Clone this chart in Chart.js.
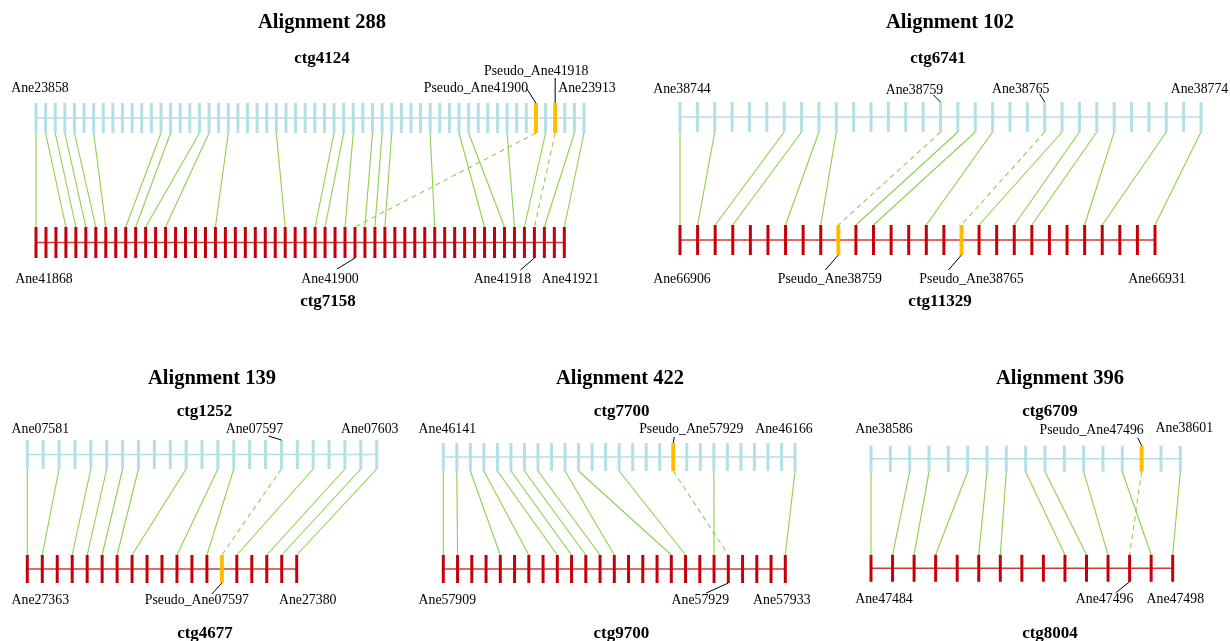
<!DOCTYPE html>
<html>
<head>
<meta charset="utf-8">
<script src="https://cdn.jsdelivr.net/npm/chart.js@4.4.0/dist/chart.umd.min.js"></script>
<style>
  html, body { margin: 0; padding: 0; background: #fff; }
  #wrap { position: relative; width: 1230px; height: 641px; }
</style>
</head>
<body>
<div id="wrap"><canvas id="syn" width="1230" height="641"></canvas></div>
<script>
// ---------- data ----------
// Alignment 288
const a288Names = ['Alignment 288', 'ctg4124', 'ctg7158'];
const a288TopCount = 58;
const a288BotCount = 54;
const a288TopPseudo = [52, 54];
const a288BotPseudo = [];
const a288Links = [[0,0],[1,3],[2,4],[3,5],[4,6],[6,7],[13,9],[14,10],[17,11],[18,13],[20,18],[25,25],
  [31,28],[32,29],[33,31],[35,33],[36,34],[37,35],[41,40],[44,45],[45,47],[49,48],[53,49],[56,51],[57,53]];
const a288PseudoLinks = [[52,32],[54,50]];
const a288TopLabelIdx = [0, 52, 54, 57];
const a288TopLabels = ['Ane23858', 'Pseudo_Ane41900', 'Pseudo_Ane41918', 'Ane23913'];
const a288BotLabelIdx = [0, 32, 50, 53];
const a288BotLabels = ['Ane41868', 'Ane41900', 'Ane41918', 'Ane41921'];

// Alignment 102
const a102Names = ['Alignment 102', 'ctg6741', 'ctg11329'];
const a102TopCount = 31;
const a102BotCount = 28;
const a102TopPseudo = [];
const a102BotPseudo = [9, 16];
const a102Links = [[0,0],[2,1],[6,2],[7,3],[8,6],[9,8],[16,10],[17,11],[18,14],[22,17],[23,19],[24,20],[25,23],[28,24],[30,27]];
const a102PseudoLinks = [[15,9],[21,16]];
const a102TopLabelIdx = [0, 15, 21, 30];
const a102TopLabels = ['Ane38744', 'Ane38759', 'Ane38765', 'Ane38774'];
const a102BotLabelIdx = [0, 9, 16, 27];
const a102BotLabels = ['Ane66906', 'Pseudo_Ane38759', 'Pseudo_Ane38765', 'Ane66931'];

// Alignment 139
const a139Names = ['Alignment 139', 'ctg1252', 'ctg4677'];
const a139TopCount = 23;
const a139BotCount = 19;
const a139TopPseudo = [];
const a139BotPseudo = [13];
const a139Links = [[0,0],[2,1],[4,3],[5,4],[6,5],[7,6],[10,7],[12,10],[13,12],[18,14],[20,16],[21,17],[22,18]];
const a139PseudoLinks = [[16,13]];
const a139TopLabelIdx = [0, 16, 22];
const a139TopLabels = ['Ane07581', 'Ane07597', 'Ane07603'];
const a139BotLabelIdx = [0, 13, 18];
const a139BotLabels = ['Ane27363', 'Pseudo_Ane07597', 'Ane27380'];

// Alignment 422
const a422Names = ['Alignment 422', 'ctg7700', 'ctg9700'];
const a422TopCount = 27;
const a422BotCount = 25;
const a422TopPseudo = [17];
const a422BotPseudo = [];
const a422Links = [[0,0],[1,1],[2,4],[3,6],[4,8],[5,9],[6,10],[7,11],[9,12],[10,16],[13,17],[20,19],[26,24]];
const a422PseudoLinks = [[17,20]];
const a422TopLabelIdx = [0, 17, 26];
const a422TopLabels = ['Ane46141', 'Pseudo_Ane57929', 'Ane46166'];
const a422BotLabelIdx = [0, 20, 24];
const a422BotLabels = ['Ane57909', 'Ane57929', 'Ane57933'];

// Alignment 396
const a396Names = ['Alignment 396', 'ctg6709', 'ctg8004'];
const a396TopCount = 17;
const a396BotCount = 15;
const a396TopPseudo = [14];
const a396BotPseudo = [];
const a396Links = [[0,0],[2,1],[3,2],[5,3],[6,5],[7,6],[8,9],[9,10],[11,11],[13,13],[16,14]];
const a396PseudoLinks = [[14,12]];
const a396TopLabelIdx = [0, 14, 16];
const a396TopLabels = ['Ane38586', 'Pseudo_Ane47496', 'Ane38601'];
const a396BotLabelIdx = [0, 12, 14];
const a396BotLabels = ['Ane47484', 'Ane47496', 'Ane47498'];

// ---------- look ----------
const W = 1230, H = 641;
const TOP_COLOR = '#b3dfe6';
const BOT_COLOR = '#c5000b';
const TOP_LINE = '#b3dfe6';
const BOT_LINE = '#d23a3a';
const PSEUDO_COLOR = '#ffbd00';
const LINK_COLOR = '#8fcf4c';
const FONT = '"Liberation Serif", "Times New Roman", serif';

// track pixel extents (a = first tick, b = last tick, y = centre, h = half height)
// label offsets: [dx, dy] from tick end, optional [lx, ly] leader end
const looks = {
  a288: { top: {a: 36, b: 584, y: 118, h: 15}, bot: {a: 36, b: 564.3, y: 242.5, h: 15.5},
    titles: [[322, 23], [322, 58.5], [328, 301.5]],
    topLab: [[4, -15], [-60, -15, -9, -14], [-19, -32, 0, -25], [3, -15]],
    botLab: [[8, 21], [-25, 21, -18, 11], [-32, 21, -14, 12], [6, 21]] },
  a102: { top: {a: 680, b: 1201, y: 117, h: 15}, bot: {a: 680, b: 1155, y: 240, h: 15},
    titles: [[950, 23], [938, 58.5], [940, 301.5]],
    topLab: [[2, -13], [-26, -12, -7, -7], [-24, -13, -5, -8], [-1.5, -13]],
    botLab: [[2, 24], [-8.5, 24, -13, 15], [10, 24, -13, 15], [2, 24]] },
  a139: { top: {a: 27.3, b: 376.7, y: 454.5, h: 14.5}, bot: {a: 27.3, b: 296.7, y: 569, h: 14},
    titles: [[212, 379], [204.5, 412], [205, 633.5]],
    topLab: [[13, -11], [-27, -11, -13, -4], [-7, -11]],
    botLab: [[13, 17], [-25, 17, -10, 11], [11, 17]] },
  a422: { top: {a: 443.3, b: 795, y: 457, h: 14}, bot: {a: 443.3, b: 785.3, y: 569, h: 14},
    titles: [[620, 379], [621.7, 412], [621.3, 633.5]],
    topLab: [[4, -14], [18, -14, 1, -6], [-11, -14]],
    botLab: [[4, 17], [-28, 17, -22, 10], [-3.5, 17]] },
  a396: { top: {a: 871, b: 1180.3, y: 458.7, h: 13}, bot: {a: 871, b: 1172.7, y: 568.3, h: 13.5},
    titles: [[1060, 379], [1050, 412], [1050, 633.5]],
    topLab: [[13, -16], [-50, -15, -4, -8], [4, -17]],
    botLab: [[13, 18], [-25, 18, -14, 11], [2.6, 18]] }
};

const panels = [
  {key: 'a288', names: a288Names, nTop: a288TopCount, nBot: a288BotCount, topPseudo: a288TopPseudo, botPseudo: a288BotPseudo,
   links: a288Links, pLinks: a288PseudoLinks, topIdx: a288TopLabelIdx, topLab: a288TopLabels, botIdx: a288BotLabelIdx, botLab: a288BotLabels},
  {key: 'a102', names: a102Names, nTop: a102TopCount, nBot: a102BotCount, topPseudo: a102TopPseudo, botPseudo: a102BotPseudo,
   links: a102Links, pLinks: a102PseudoLinks, topIdx: a102TopLabelIdx, topLab: a102TopLabels, botIdx: a102BotLabelIdx, botLab: a102BotLabels},
  {key: 'a139', names: a139Names, nTop: a139TopCount, nBot: a139BotCount, topPseudo: a139TopPseudo, botPseudo: a139BotPseudo,
   links: a139Links, pLinks: a139PseudoLinks, topIdx: a139TopLabelIdx, topLab: a139TopLabels, botIdx: a139BotLabelIdx, botLab: a139BotLabels},
  {key: 'a422', names: a422Names, nTop: a422TopCount, nBot: a422BotCount, topPseudo: a422TopPseudo, botPseudo: a422BotPseudo,
   links: a422Links, pLinks: a422PseudoLinks, topIdx: a422TopLabelIdx, topLab: a422TopLabels, botIdx: a422BotLabelIdx, botLab: a422BotLabels},
  {key: 'a396', names: a396Names, nTop: a396TopCount, nBot: a396BotCount, topPseudo: a396TopPseudo, botPseudo: a396BotPseudo,
   links: a396Links, pLinks: a396PseudoLinks, topIdx: a396TopLabelIdx, topLab: a396TopLabels, botIdx: a396BotLabelIdx, botLab: a396BotLabels}
];

// ---------- build scales & datasets ----------
let scales = {};
let datasets = [];
let trackLines = [];

function xRange(t, n) {
  let s = (t.b - t.a) / (n - 1);
  return {min: -t.a / s, max: (W - t.a) / s};
}

panels.forEach(p => {
  let lk = looks[p.key];
  p.xt = 'x' + p.key + 't';
  p.xb = 'x' + p.key + 'b';
  p.y = 'y' + p.key;
  let rt = xRange(lk.top, p.nTop), rb = xRange(lk.bot, p.nBot);
  let d = lk.bot.y - lk.top.y;
  let ymin = (lk.bot.y - H) / d;
  scales[p.xt] = {type: 'linear', axis: 'x', position: 'bottom', display: false, min: rt.min, max: rt.max};
  scales[p.xb] = {type: 'linear', axis: 'x', position: 'bottom', display: false, min: rb.min, max: rb.max};
  scales[p.y] = {type: 'linear', axis: 'y', position: 'left', display: false, min: ymin, max: ymin + H / d};

  // gene ticks, top then bottom
  [['top', p.nTop, p.topPseudo, 1, TOP_COLOR, p.xt], ['bot', p.nBot, p.botPseudo, 0, BOT_COLOR, p.xb]].forEach(tr => {
    let [side, n, pseudo, yv, col, xid] = tr;
    let pts = [], cols = [], wids = [];
    for (let i = 0; i < n; i++) {
      pts.push({x: i, y: yv});
      let ps = pseudo.includes(i);
      cols.push(ps ? PSEUDO_COLOR : col);
      wids.push(ps ? 4 : 3);
    }
    datasets.push({
      data: pts, xAxisID: xid, yAxisID: p.y, showLine: false, clip: false,
      pointStyle: 'line', pointRotation: 90, pointRadius: lk[side].h, pointHoverRadius: lk[side].h,
      pointBorderColor: cols, pointBorderWidth: wids, pointHoverBorderWidth: wids
    });
    trackLines.push({
      data: [{x: 0, y: yv}, {x: n - 1, y: yv}], xAxisID: xid, yAxisID: p.y, showLine: true, clip: false,
      borderColor: side == 'top' ? TOP_LINE : BOT_LINE, borderWidth: 1.5, pointRadius: 0
    });
  });
});
datasets = datasets.concat(trackLines);

// links, labels and titles
const synPlugin = {
  id: 'syn',
  beforeDatasetsDraw(chart) {
    let ctx = chart.ctx;
    panels.forEach(p => {
      let lk = looks[p.key];
      let xt = chart.scales[p.xt], xb = chart.scales[p.xb], ys = chart.scales[p.y];
      let y1 = ys.getPixelForValue(1) + lk.top.h;
      let y2 = ys.getPixelForValue(0) - lk.bot.h;
      ctx.save();
      ctx.strokeStyle = LINK_COLOR;
      ctx.lineWidth = 1.1;
      p.links.forEach(l => {
        ctx.beginPath();
        ctx.moveTo(xt.getPixelForValue(l[0]), y1);
        ctx.lineTo(xb.getPixelForValue(l[1]), y2);
        ctx.stroke();
      });
      ctx.setLineDash([5, 4]);
      p.pLinks.forEach(l => {
        ctx.beginPath();
        ctx.moveTo(xt.getPixelForValue(l[0]), y1);
        ctx.lineTo(xb.getPixelForValue(l[1]), y2);
        ctx.stroke();
      });
      ctx.restore();
    });
  },
  afterDatasetsDraw(chart) {
    let ctx = chart.ctx;
    ctx.save();
    ctx.textAlign = 'center';
    ctx.textBaseline = 'middle';
    ctx.fillStyle = '#000';
    panels.forEach(p => {
      let lk = looks[p.key];
      let xt = chart.scales[p.xt], xb = chart.scales[p.xb], ys = chart.scales[p.y];
      // titles
      ctx.font = 'bold 20.5px ' + FONT;
      ctx.fillText(p.names[0], lk.titles[0][0], lk.titles[0][1]);
      ctx.font = 'bold 17px ' + FONT;
      ctx.fillText(p.names[1], lk.titles[1][0], lk.titles[1][1]);
      ctx.fillText(p.names[2], lk.titles[2][0], lk.titles[2][1]);
      // gene labels
      ctx.font = '13.8px ' + FONT;
      ctx.strokeStyle = '#000';
      ctx.lineWidth = 1;
      let yTop = ys.getPixelForValue(1) - lk.top.h;
      let yBot = ys.getPixelForValue(0) + lk.bot.h;
      [[p.topIdx, p.topLab, lk.topLab, xt, yTop], [p.botIdx, p.botLab, lk.botLab, xb, yBot]].forEach(g => {
        let [idx, txt, off, sc, ye] = g;
        idx.forEach((i, k) => {
          let x = sc.getPixelForValue(i);
          let o = off[k];
          ctx.fillText(txt[k], x + o[0], ye + o[1]);
          if (o.length > 2) {
            ctx.beginPath();
            ctx.moveTo(x + o[2], ye + o[3]);
            ctx.lineTo(x, ye);
            ctx.stroke();
          }
        });
      });
    });
    ctx.restore();
  }
};

new Chart(document.getElementById('syn'), {
  type: 'scatter',
  data: {datasets: datasets},
  options: {
    responsive: false,
    animation: false,
    events: [],
    layout: {padding: 0, autoPadding: false},
    scales: scales,
    plugins: {legend: {display: false}, tooltip: {enabled: false}}
  },
  plugins: [synPlugin]
});
</script>
</body>
</html>
